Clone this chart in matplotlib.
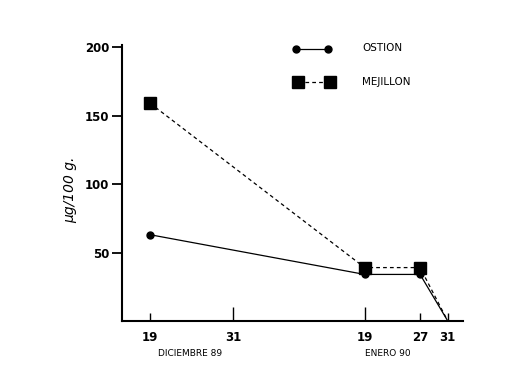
import matplotlib
matplotlib.use("Agg")
import matplotlib.pyplot as plt

# days counted from 19 Dec 1989
days_long = [12, 31]          # 31 dic, 19 ene (longer ticks)
days_short = [0, 39, 43]      # 19 dic, 27 ene, 31 ene
labels_long = ["31", "19"]
labels_short = ["19", "27", "31"]

sample_days = [0, 31, 39, 43]
ostion = [63, 34, 34, 0]
mejillon = [159, 39, 39, 0]

y_ticks = [50, 100, 150, 200]

fig = plt.figure(figsize=(5.27, 3.92), dpi=100)
ax = fig.add_axes([122 / 527, 1 - 321 / 392, (463 - 122) / 527, (321 - 45) / 392])

# the last sample (zero) has no marker in the original
ax.plot(sample_days, ostion, color="black", lw=0.9, marker="o", ms=5,
        markevery=[0, 1, 2], clip_on=False)
ax.plot(sample_days, mejillon, color="black", lw=0.9, ls=(0, (3, 2.5)), marker="s",
        ms=9, markevery=[0, 1, 2], clip_on=False)

ax.set_xlim(-4.05, 45.2)
ax.set_ylim(0, 201.5)

for side in ["top", "right"]:
    ax.spines[side].set_visible(False)
ax.spines["left"].set_linewidth(1.5)
ax.spines["bottom"].set_linewidth(1.5)

ax.set_yticks(y_ticks)
ax.set_yticklabels([str(v) for v in y_ticks], fontweight="bold", fontsize=8.5)
ax.tick_params(axis="y", direction="out", length=7, width=1.3, pad=2)

ax.set_xticks(days_long)
ax.set_xticklabels(labels_long, fontweight="bold", fontsize=8.5)
ax.set_xticks(days_short, minor=True)
ax.set_xticklabels(labels_short, minor=True, fontweight="bold", fontsize=8.5)
ax.tick_params(axis="x", which="major", direction="in", length=10, width=1, pad=7)
ax.tick_params(axis="x", which="minor", direction="in", length=6, width=1, pad=7)

fig.text(190 / 527, 1 - 353 / 392, "DICIEMBRE 89", fontsize=6.5, ha="center", va="center")
fig.text(388 / 527, 1 - 353 / 392, "ENERO 90", fontsize=6.5, ha="center", va="center")

fig.text(70 / 527, 1 - 190 / 392, "μg/100 g.", rotation=90, fontsize=10,
         style="italic", ha="center", va="center")

# legend drawn by hand to match the original layout
fig.add_artist(plt.Line2D([296 / 527, 328 / 527], [1 - 49 / 392] * 2, color="black",
                          lw=0.9, marker="o", ms=5))
fig.add_artist(plt.Line2D([298 / 527, 330 / 527], [1 - 82 / 392] * 2, color="black",
                          lw=0.9, ls=(0, (3, 2.5)), marker="s", ms=9))
fig.text(362 / 527, 1 - 48 / 392, "OSTION", fontsize=7.5, va="center")
fig.text(362 / 527, 1 - 82 / 392, "MEJILLON", fontsize=7.5, va="center")

fig.savefig("out.png", dpi=100)
